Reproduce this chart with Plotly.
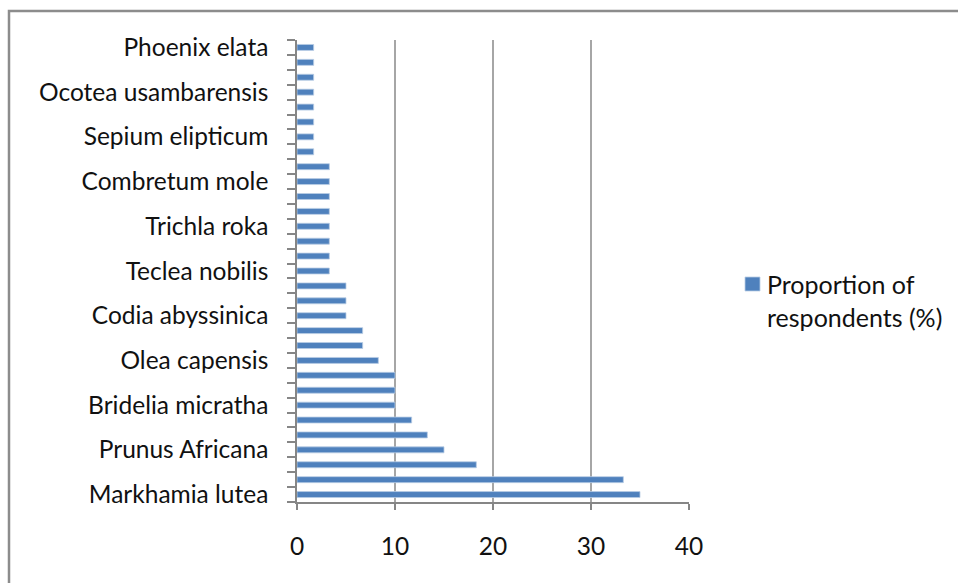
import plotly.graph_objects as go

# Tree species, listed from bottom of the chart upwards; only every third name is shown
species_labels = [
    "Markhamia lutea", "", "",
    "Prunus Africana", "", "",
    "Bridelia micratha", "", "",
    "Olea capensis", "", "",
    "Codia abyssinica", "", "",
    "Teclea nobilis", "", "",
    "Trichla roka", "", "",
    "Combretum mole", "", "",
    "Sepium elipticum", "", "",
    "Ocotea usambarensis", "", "",
    "Phoenix elata",
]

# Proportion of respondents (%) for each species, same order
proportion = [
    35.0, 33.3, 18.3,
    15.0, 13.3, 11.7,
    10.0, 10.0, 10.0,
    8.3, 6.7, 6.7,
    5.0, 5.0, 5.0,
    3.3, 3.3, 3.3,
    3.3, 3.3, 3.3,
    3.3, 3.3, 1.7,
    1.7, 1.7, 1.7,
    1.7, 1.7, 1.7,
    1.7,
]

x_ticks = [0, 10, 20, 30, 40]
series_name = "Proportion of<br>respondents (%)"

positions = list(range(len(proportion)))
label_pos = [i for i, s in enumerate(species_labels) if s]
label_txt = [s for s in species_labels if s]
boundaries = [i - 0.5 for i in range(len(proportion) + 1)]

W, H = 958, 583
L, R, T, B = 297, 689, 40, 502  # plot area in pixels


def px_to_paper(px, py):
    return (px - L) / (R - L), 1 - (py - T) / (B - T)


FONT = "Lato, 'Open Sans', sans-serif"
AXIS_GRAY = "#868686"
BAR_BLUE = "#4F81BD"

fig = go.Figure()
fig.add_trace(go.Bar(
    x=proportion,
    y=positions,
    orientation="h",
    name=series_name,
    marker=dict(color=BAR_BLUE, line=dict(color="#B9CDE5", width=0.8)),
    showlegend=False,
))

fig.update_layout(
    width=W,
    height=H,
    margin=dict(l=L, r=W - R, t=T, b=H - B, pad=0),
    paper_bgcolor="white",
    plot_bgcolor="white",
    bargap=0.6,
    font=dict(family=FONT, size=24.5, color="#111111"),
    xaxis=dict(
        range=[0, 40],
        tickmode="array",
        tickvals=x_ticks,
        ticktext=[str(v) for v in x_ticks],
        showgrid=True,
        gridcolor="#A6A6A6",
        gridwidth=1.5,
        showline=True,
        linecolor=AXIS_GRAY,
        linewidth=1.5,
        ticks="outside",
        ticklen=6,
        tickwidth=1.5,
        tickcolor=AXIS_GRAY,
        ticklabelstandoff=16,
        zeroline=False,
        tickfont=dict(size=24.5),
    ),
    yaxis=dict(
        range=[-0.5, len(proportion) - 0.5],
        tickmode="array",
        tickvals=label_pos,
        ticktext=label_txt,
        ticks="",
        ticklabelstandoff=22,
        showgrid=False,
        showline=True,
        linecolor=AXIS_GRAY,
        linewidth=1.5,
        zeroline=False,
        tickfont=dict(size=24.5),
        minor=dict(
            tickmode="array",
            tickvals=boundaries,
            ticks="outside",
            ticklen=8,
            tickwidth=1.5,
            tickcolor=AXIS_GRAY,
            showgrid=False,
        ),
    ),
)

# Legend: swatch and label
sx0, sy0 = px_to_paper(745, 277)
sx1, sy1 = px_to_paper(760, 291)
fig.add_shape(
    type="rect", xref="paper", yref="paper",
    x0=sx0, y0=sy1, x1=sx1, y1=sy0,
    line=dict(color="#B9CDE5", width=0.8),
    fillcolor=BAR_BLUE,
)
lx, ly = px_to_paper(766, 268)
fig.add_annotation(
    xref="paper", yref="paper",
    x=lx, y=ly,
    xanchor="left", yanchor="top",
    align="left",
    text=series_name,
    showarrow=False,
    font=dict(size=25),
    borderpad=0,
)

# Outer chart border
bx0, by0 = px_to_paper(9, 11)
bx1, by1 = px_to_paper(965, 595)
fig.add_shape(
    type="rect", xref="paper", yref="paper",
    x0=bx0, y0=by1, x1=bx1, y1=by0,
    line=dict(color="#8C8C8C", width=2.5),
    fillcolor="rgba(0,0,0,0)",
    layer="below",
)

fig.write_html("out.html")
